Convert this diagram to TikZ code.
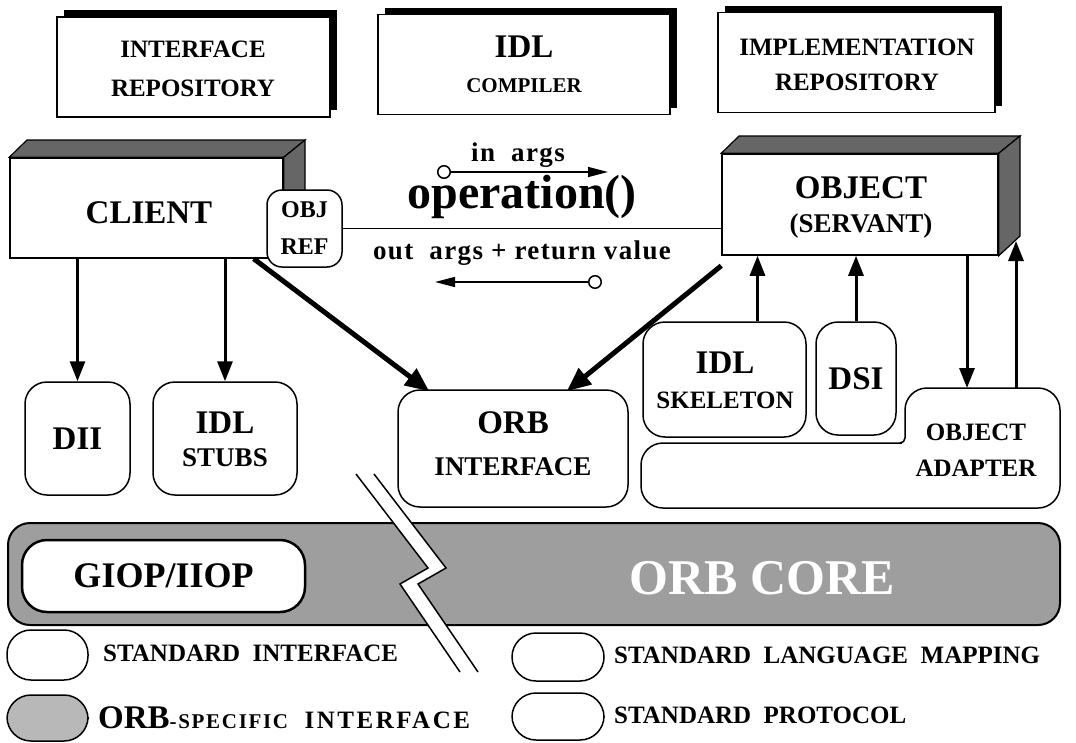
\documentclass[tikz,border=0pt]{standalone}
\usepackage{fontspec}
\setmainfont{Liberation Serif}
\usetikzlibrary{arrows.meta,positioning,calc,shadows}

\newcommand{\fhuge}{\fontsize{50}{54}\selectfont\bfseries}
\newcommand{\fop}{\fontsize{48}{52}\selectfont\bfseries}
\newcommand{\fgiop}{\fontsize{36}{40}\selectfont\bfseries}
\newcommand{\fbig}{\fontsize{33}{36}\selectfont\bfseries}
\newcommand{\flab}{\fontsize{27}{30}\selectfont\bfseries}
\newcommand{\fmid}{\fontsize{25}{28}\selectfont\bfseries}
\newcommand{\fobj}{\fontsize{24}{27}\selectfont\bfseries}
\newcommand{\fsml}{\fontsize{21}{24}\selectfont\bfseries}
\newcommand{\farg}{\fontsize{27}{30}\selectfont\bfseries\addfontfeature{LetterSpace=5}}

\tikzset{
  topbox/.style={draw,line width=1.5pt,fill=white,minimum width=273pt,minimum height=100pt,
    drop shadow={shadow xshift=7pt,shadow yshift=7pt,fill=black,opacity=1}},
  front/.style={draw,line width=1.5pt,fill=white},
  face/.style={draw,line width=1.2pt,fill=black!60},
  rbox/.style={draw,line width=1.5pt,fill=white,rounded corners=22pt},
  leg/.style={draw,line width=1.5pt,rounded corners=24pt,minimum width=81pt,minimum height=50pt},
  arr/.style={line width=3pt,-{Triangle[length=20pt,width=15pt]}},
  fat/.style={line width=5pt,-{Triangle[length=24pt,width=20pt]}},
  arg/.style={line width=1.5pt,{Circle[open,length=14pt,width=14pt]}-{Triangle[length=20pt,width=10pt]}},
  txt/.style={inner sep=0pt},
}

\begin{document}
\begin{tikzpicture}[x=1pt,y=-1pt]
  \useasboundingbox (0,0) rectangle (1076,742);

  % repositories and compiler
  \node[topbox] (irep) at (193.5,67) {};
  \node[txt,font=\fmid] (irep1) at (193,49) {INTERFACE};
  \node[txt,font=\fmid] (irep2) at (193,88) {REPOSITORY};
  \node[topbox,minimum width=292pt] (idlc) at (524,64.5) {};
  \node[txt,font=\fbig] (idlc1) at (524,47) {IDL};
  \node[txt,font=\fsml] (idlc2) at (524,86) {COMPILER};
  \node[topbox,minimum width=277pt] (impl) at (856.5,62.5) {};
  \node[txt,font=\fmid] (impl1) at (857,47) {IMPLEMENTATION};
  \node[txt,font=\fmid] (impl2) at (857,82) {REPOSITORY};

  % client
  \node[front,minimum width=273pt,minimum height=100pt] (client) at (146.5,208) {};
  \node[txt,font=\fbig] (client1) at (149,213) {CLIENT};
  \draw[face] (client.north west) -- (27,140) -- (305,140) -- (client.north east) -- cycle;
  \draw[face] (client.north east) -- (305,140) -- (305,238) -- (client.south east) -- cycle;
  \node[rbox,rounded corners=15pt,minimum width=75pt,minimum height=77pt] (objref) at (304.5,228.5) {};
  \node[txt,font=\fobj] (objref1) at (304.5,210) {OBJ};
  \node[txt,font=\fobj] (objref2) at (304.5,247) {REF};

  % object
  \node[front,minimum width=276pt,minimum height=101pt] (object) at (860,204.5) {};
  \draw[face] (object.north west) -- (739,136) -- (1020,136) -- (object.north east) -- cycle;
  \draw[face] (object.north east) -- (1020,136) -- (1020,236) -- (object.south east) -- cycle;
  \node[txt,font=\fbig] (object1) at (861,188) {OBJECT};
  \node[txt,font=\flab] (object2) at (861,226) {(SERVANT)};

  % request
  \draw[line width=1.5pt] (objref.east) -- (objref.east -| object.west);
  \coordinate (inA) at (437,172);
  \coordinate (inB) at (608,172);
  \coordinate (outA) at (602,282);
  \coordinate (outB) at (435,282);
  \draw[arg] (inA) -- (inB);
  \draw[arg] (outA) -- (outB);
  \node[txt,font=\farg] (inargs) at (518,155) {in\ \ args};
  \node[txt,font=\fop] (op) at (522,197) {operation()};
  \node[txt,font=\farg] (outargs) at (522,253) {out\ \ args + return\ value};

  % client side interfaces
  \node[rbox,minimum width=105pt,minimum height=113pt,font=\fbig] (dii) at (77.5,438.5) {DII};
  \node[rbox,minimum width=144pt,minimum height=113pt] (stubs) at (225,438.5) {};
  \node[txt,font=\fbig] (stubs1) at (225,423) {IDL};
  \node[txt,font=\flab] (stubs2) at (225,458) {STUBS};
  \node[rbox,minimum width=230pt,minimum height=117pt] (orbif) at (513,448.5) {};
  \node[txt,font=\fbig] (orbif1) at (513,423) {ORB};
  \node[txt,font=\flab] (orbif2) at (513,467) {INTERFACE};

  % server side interfaces
  \node[rbox,minimum width=163pt,minimum height=115pt] (skel) at (724.5,379.5) {};
  \node[txt,font=\fbig] (skel1) at (725,363) {IDL};
  \node[txt,font=\fmid] (skel2) at (725,400) {SKELETON};
  \node[rbox,minimum width=80pt,minimum height=113pt,font=\fbig] (dsi) at (856,378.5) {DSI};
  \draw[line width=1.5pt] (905,420) [rounded corners=22pt] -- (905,388) -- (1060,388) -- (1060,508)
    -- (641,508) -- (641,443) -- (880,443) [rounded corners=5pt] -- (905,443) -- cycle;
  \node[txt,font=\fmid] (adapt1) at (976,432) {OBJECT};
  \node[txt,font=\fmid] (adapt2) at (976,468) {ADAPTER};
  \coordinate (oaIn) at (967,388);
  \coordinate (oaOut) at (1016,388);
  \coordinate (oside) at (1016,241);

  % orb core
  \draw[line width=2pt,fill=black!38,rounded corners=22pt] (8,523) rectangle (1060,625);
  \node[txt,font=\fhuge,text=white] (core) at (762,578) {ORB CORE};
  \node[rbox,line width=2.5pt,rounded corners=25pt,minimum width=283pt,minimum height=72pt,font=\fgiop] (giop) at (163.5,576) {GIOP/IIOP};
  \fill[white] (356,474) -- (428,568) -- (400,584) -- (460,672) -- (478,672) -- (418,584) -- (446,568) -- (374,474) -- cycle;
  \draw[line width=1.5pt] (356,474) -- (428,568) -- (400,584) -- (460,672);
  \draw[line width=1.5pt] (374,474) -- (446,568) -- (418,584) -- (478,672);

  % arrows
  \draw[arr] (client.south -| dii) -- (dii.north);
  \draw[arr] (client.south -| stubs) -- (stubs.north);
  \draw[fat] ([xshift=-30pt]client.south east) -- ([xshift=32pt,yshift=-2pt]orbif.north west);
  \draw[fat] ([yshift=-10pt]object.south west) -- ([xshift=-62pt,yshift=-2pt]orbif.north east);
  \draw[arr] ([xshift=33pt]skel.north) -- ([xshift=33pt]skel.north |- object.south);
  \draw[arr] (dsi.north) -- (dsi.north |- object.south);
  \draw[arr] (oaIn |- object.south) -- (oaIn);
  \draw[arr] (oaOut) -- (oside);

  % legend
  \node[leg] (leg1) at (47.5,655) {};
  \node[leg,fill=black!28,minimum height=46pt] (leg2) at (47.5,718) {};
  \node[leg,minimum width=92pt,minimum height=48pt] (leg3) at (558,657) {};
  \node[leg,minimum width=92pt,minimum height=47pt] (leg4) at (558,716.5) {};
  \node[txt,anchor=west,font=\fmid] (leg1t) at (103,653) {STANDARD\ \ INTERFACE};
  \node[txt,anchor=west,font=\fbig] (leg2t) at (98,718) {ORB{\fsml\addfontfeature{LetterSpace=8}-SPECIFIC}\ \ {\fmid\addfontfeature{LetterSpace=10}INTERFACE}};
  \node[txt,anchor=west,font=\fmid] (leg3t) at (614,655) {STANDARD\ \ LANGUAGE\ \ MAPPING};
  \node[txt,anchor=west,font=\fmid] (leg4t) at (614,715) {STANDARD\ \ PROTOCOL};
\end{tikzpicture}
\end{document}
